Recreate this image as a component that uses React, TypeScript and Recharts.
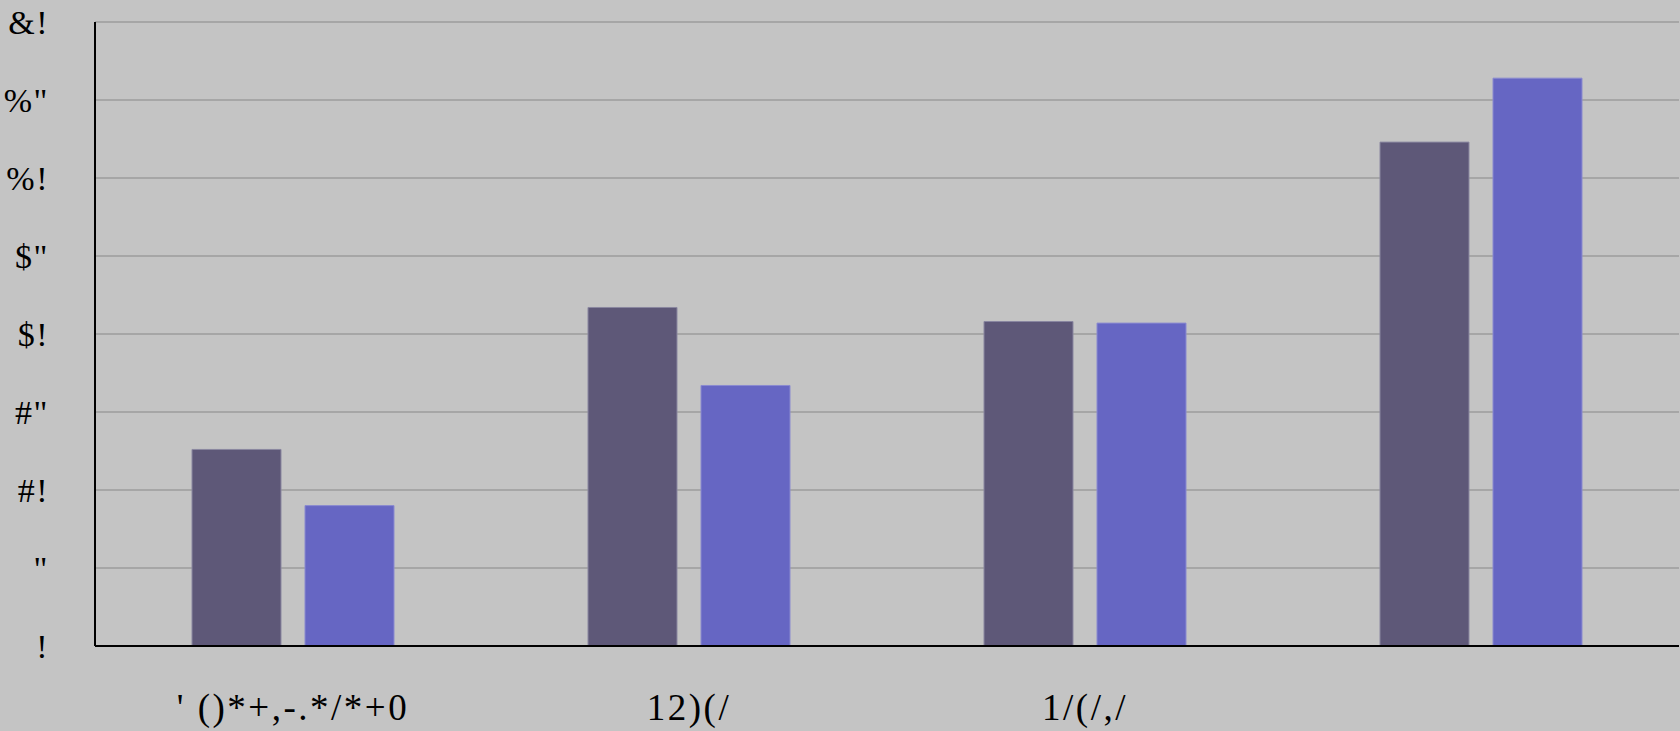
import React from "react";
import { BarChart, Bar, XAxis, YAxis, CartesianGrid } from "recharts";

const categories = ["' ()*+,-.*/*+0", "12)(/", "1/(/,/", ""];
const seriesA = [12.6, 21.7, 20.8, 32.3];
const seriesB = [9.0, 16.7, 20.7, 36.4];
const yTicks = [0, 5, 10, 15, 20, 25, 30, 35, 40];
const yTickLabels = ["!", "\"", "#!", "#\"", "$!", "$\"", "%!", "%\"", "&!"];

const data = categories.map((c, i) => ({ name: c, a: seriesA[i], b: seriesB[i] }));

const YTick = (props: any) => {
  const { y, payload } = props;
  const idx = yTicks.indexOf(payload.value);
  return (
    <text x={49} y={y} textAnchor="end" dominantBaseline="central" fontFamily="'Liberation Serif', serif" fontSize={34} letterSpacing={1.5} fill="#000">
      {idx >= 0 ? yTickLabels[idx] : ""}
    </text>
  );
};

const XTick = (props: any) => {
  const { x, y, payload } = props;
  return (
    <text x={x} y={y + 66} textAnchor="middle" fontFamily="'Liberation Serif', serif" fontSize={37} letterSpacing={2.5} fill="#000">
      {payload.value}
    </text>
  );
};

export default function App() {
  return (
    <div style={{ position: "fixed", left: 0, top: 0, width: 1680, height: 731, background: "#c4c4c4" }}>
      <BarChart width={1680} height={731} data={data} margin={{ top: 22, right: 1, left: 0, bottom: 0 }} barSize={89} barGap={24}>
        <CartesianGrid vertical={false} stroke="#a6a6a6" strokeWidth={2} />
        <XAxis dataKey="name" height={85} tickLine={false} axisLine={{ stroke: "#000", strokeWidth: 2 }} tick={<XTick />} interval={0} />
        <YAxis width={95} domain={[0, 40]} ticks={yTicks} tickLine={false} axisLine={{ stroke: "#000", strokeWidth: 2 }} tick={<YTick />} interval={0} />
        <Bar dataKey="a" fill="#5e5878" stroke="#8a87a0" strokeWidth={1} isAnimationActive={false} />
        <Bar dataKey="b" fill="#6666c3" stroke="#8a8ad0" strokeWidth={1} isAnimationActive={false} />
      </BarChart>
    </div>
  );
}
